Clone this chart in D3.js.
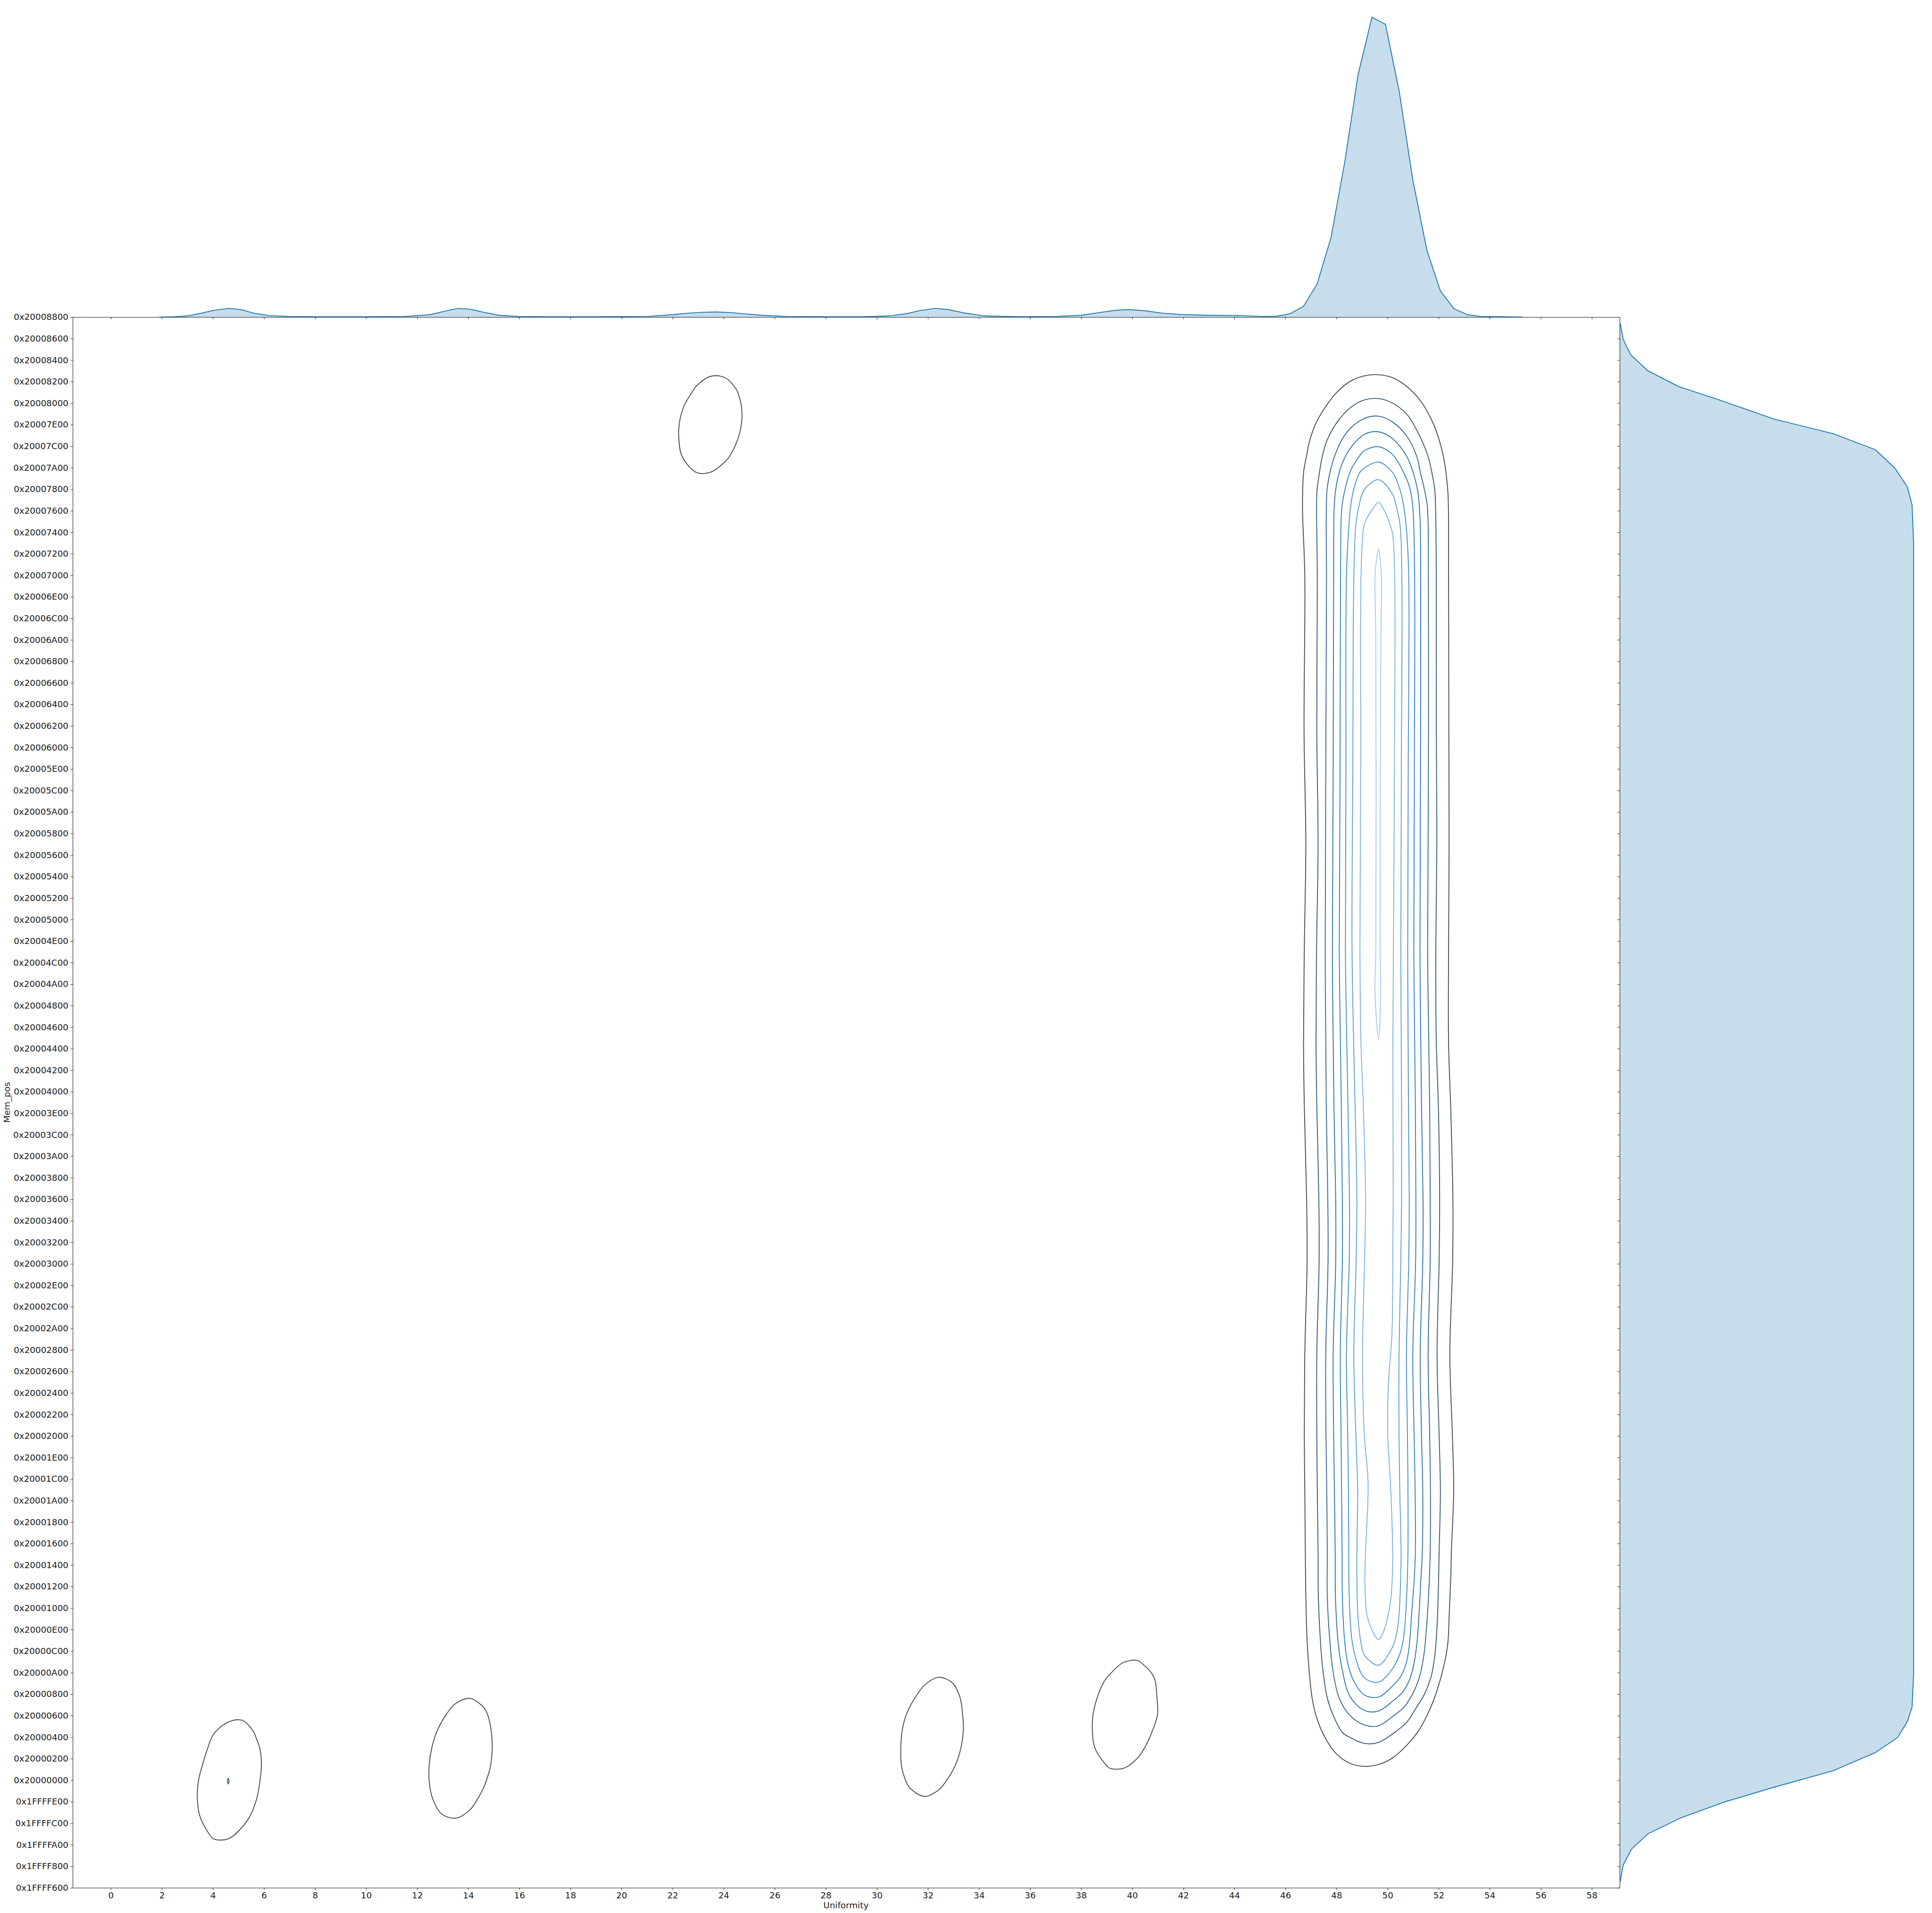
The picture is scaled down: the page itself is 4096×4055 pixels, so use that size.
<!DOCTYPE html>
<html><head><meta charset="utf-8">
<script src="https://cdn.jsdelivr.net/npm/d3@7"></script>
<style>body{margin:0;background:#fff}svg{display:block}</style>
</head><body>
<svg id="chart" width="4096" height="4055"></svg>
<script>
// ---------- data ----------
const BASE = 0x20000000; // y values below are byte offsets from this address
const xTicks = d3.range(0, 59, 2);
const yTicks = d3.range(-2560, 34817, 512);

// top marginal KDE (Uniformity), relative density (peak = 1)
const topU = [1.9,2.5,3.0,3.5,4.0,4.6,5.1,5.6,6.2,7,8,10,11.5,12.5,13.1,13.6,14.1,14.6,15.2,16,17,19,21,22,22.6,23.2,23.7,24.3,24.8,25.5,26.5,28,29.5,30.5,31.2,31.7,32.3,32.8,33.4,34.2,35.5,37,38,38.8,39.4,39.9,40.5,41.2,42,43,44.27,45.1,45.65,46.18,46.71,47.24,47.79,48.33,48.85,49.39,49.92,50.46,50.99,51.54,52.07,52.6,53.13,53.66,54.5,55.3];
const topDensity = [0,0.001,0.004,0.012,0.022,0.029,0.025,0.013,0.005,0.002,0.001,0.001,0.002,0.008,0.02,0.029,0.026,0.016,0.006,0.002,0.001,0.001,0.002,0.008,0.013,0.016,0.017,0.015,0.011,0.006,0.002,0.001,0.001,0.004,0.012,0.022,0.029,0.025,0.014,0.004,0.001,0.002,0.006,0.016,0.023,0.025,0.021,0.013,0.008,0.006,0.005,0.002,0.003,0.011,0.036,0.11,0.266,0.52,0.81,1.0,0.976,0.751,0.457,0.223,0.087,0.028,0.008,0.002,0.001,0];

// right marginal KDE (Mem_pos), relative density (plateau = 1)
const rightOff = [-2409,-2022,-1642,-1273,-903,-513,-165,226,658,1017,1397,1745,2500,6000,12000,18000,24000,29455,30341,30774,31217,31660,32040,32388,32864,33159,33539,33919,34288,34668];
const rightDensity = [0.002,0.012,0.04,0.097,0.206,0.359,0.526,0.727,0.87,0.946,0.979,0.995,1.0,1.0,1.0,1.0,1.0,1.0,0.995,0.979,0.937,0.87,0.727,0.526,0.33,0.202,0.096,0.037,0.012,0.002];

// 2D KDE contour rings: [Uniformity, byte offset from 0x20000000]
const mainL1 = [[49.65,33443],[49.10,33419],[48.55,33292],[47.99,33011],[47.58,32687],[47.19,32283],[46.96,31896],[46.82,31491],[46.71,31104],[46.67,30296],[46.76,28643],[46.73,24941],[46.80,22276],[46.74,19758],[46.71,17537],[46.74,16057],[46.83,13836],[46.85,12355],[46.76,10135],[46.74,8210],[46.76,6877],[46.78,5428],[46.80,4373],[46.85,3318],[46.93,2614],[47.04,1981],[47.19,1559],[47.45,1137],[47.97,645],[48.54,399],[49.10,329],[49.65,374],[50.20,532],[50.76,838],[51.21,1172],[51.56,1559],[51.85,1981],[52.07,2403],[52.29,2966],[52.37,3318],[52.42,4021],[52.48,4900],[52.50,5428],[52.59,6877],[52.54,8210],[52.44,10135],[52.55,12355],[52.56,13836],[52.47,16057],[52.39,17537],[52.39,19758],[52.41,22276],[52.40,24941],[52.39,28642],[52.37,30577],[52.29,31104],[52.19,31491],[52.02,31896],[51.79,32283],[51.32,32800],[50.76,33162],[50.20,33373]];
const mainL2 = [[49.65,32877],[49.10,32845],[48.54,32659],[48.00,32293],[47.64,31896],[47.44,31491],[47.33,31104],[47.24,30700],[47.22,30296],[47.25,28643],[47.23,24941],[47.28,22276],[47.22,19758],[47.20,17537],[47.23,16057],[47.31,13836],[47.32,12355],[47.23,10135],[47.23,8210],[47.25,6877],[47.28,5428],[47.29,4373],[47.37,3318],[47.47,2614],[47.63,1981],[47.86,1559],[48.23,1137],[48.54,1014],[49.10,874],[49.65,901],[50.20,1102],[50.76,1384],[51.10,1700],[51.45,2052],[51.71,2474],[51.85,2966],[51.94,3670],[51.99,4549],[52.02,5428],[52.07,6877],[52.02,8210],[51.94,10135],[52.02,12355],[52.04,13836],[51.99,16057],[51.91,17537],[51.89,19758],[51.93,22276],[51.91,24941],[51.91,28642],[51.88,30296],[51.85,30700],[51.74,31104],[51.59,31491],[51.33,31896],[50.99,32293],[50.76,32501],[50.20,32768]];
const mainL3 = [[49.65,32458],[49.10,32406],[48.55,32174],[48.21,31896],[47.92,31491],[47.74,31104],[47.63,30700],[47.60,30049],[47.61,28643],[47.58,24000],[47.56,19758],[47.60,16057],[47.66,13836],[47.67,12355],[47.58,10135],[47.59,8210],[47.62,6877],[47.64,5428],[47.64,4373],[47.74,3318],[47.86,2614],[48.09,1981],[48.50,1559],[49.10,1313],[49.65,1296],[50.20,1517],[50.64,1735],[50.98,2052],[51.24,2439],[51.42,2966],[51.53,3670],[51.62,4549],[51.67,5428],[51.68,6877],[51.65,8210],[51.59,10135],[51.67,12355],[51.67,13836],[51.65,16057],[51.57,19758],[51.60,24000],[51.60,28642],[51.56,30296],[51.45,30700],[51.29,31104],[51.15,31491],[50.76,31977],[50.20,32318]];
const mainL4 = [[49.65,32086],[49.10,32026],[48.55,31702],[48.26,31386],[48.03,30929],[47.92,30401],[47.89,28643],[47.87,24000],[47.84,19758],[47.90,16057],[47.97,13836],[47.97,12355],[47.87,10135],[47.89,8210],[47.92,6877],[47.95,5428],[47.96,4373],[48.06,3318],[48.23,2614],[48.54,1981],[49.10,1658],[49.65,1647],[50.20,1883],[50.58,2087],[50.87,2403],[51.04,2790],[51.16,3318],[51.24,4021],[51.30,4725],[51.36,5428],[51.38,6877],[51.33,8210],[51.28,10135],[51.38,12355],[51.39,13836],[51.33,16057],[51.27,19758],[51.29,24000],[51.30,28643],[51.27,30049],[51.19,30647],[51.01,31104],[50.76,31491],[50.20,31920]];
const mainL5 = [[49.65,31730],[49.10,31643],[48.88,31491],[48.55,31157],[48.35,30753],[48.21,30296],[48.16,28643],[48.14,24000],[48.11,19758],[48.19,16057],[48.23,13836],[48.23,12355],[48.15,10135],[48.18,8210],[48.20,6877],[48.22,5428],[48.23,4373],[48.32,3318],[48.44,2790],[48.67,2368],[49.10,2024],[49.65,1981],[50.20,2245],[50.52,2474],[50.75,2826],[50.87,3318],[50.95,4021],[51.04,4725],[51.09,5428],[51.08,6877],[51.04,8210],[50.99,10135],[51.10,12355],[51.11,13836],[51.09,16057],[51.03,19758],[51.05,24000],[51.06,28643],[50.99,30296],[50.87,30753],[50.64,31104],[50.20,31544]];
const mainL6 = [[49.65,31365],[49.10,31228],[48.90,31104],[48.67,30700],[48.55,30296],[48.47,29698],[48.39,28643],[48.37,24000],[48.35,19758],[48.45,16057],[48.51,13836],[48.50,12355],[48.39,10135],[48.44,8210],[48.47,6877],[48.48,5428],[48.50,4373],[48.61,3318],[48.81,2790],[49.10,2432],[49.65,2333],[50.20,2657],[50.46,2966],[50.61,3318],[50.70,3845],[50.76,4549],[50.80,5428],[50.80,6877],[50.78,8210],[50.74,10135],[50.83,12355],[50.85,13836],[50.82,16057],[50.79,19758],[50.81,24000],[50.83,28643],[50.75,29698],[50.64,30296],[50.49,30700],[50.20,31115]];
const mainL7 = [[49.65,30946],[49.10,30718],[48.87,30296],[48.76,29874],[48.68,28643],[48.64,24000],[48.61,19758],[48.70,16797],[48.80,13836],[48.77,12355],[48.68,10135],[48.76,8210],[48.83,6877],[48.80,5428],[48.81,4373],[48.87,3670],[48.99,3177],[49.10,2966],[49.65,2738],[50.20,3177],[50.38,3564],[50.46,4021],[50.51,4725],[50.53,5428],[50.48,6877],[50.45,8210],[50.45,10135],[50.52,12355],[50.55,13836],[50.55,16057],[50.52,19758],[50.54,24000],[50.56,28643],[50.49,29874],[50.35,30296],[50.20,30594]];
const mainL8 = [[49.65,30412],[49.48,30303],[49.10,29898],[49.02,29522],[48.96,28643],[48.95,24200],[48.92,19758],[48.96,17537],[49.05,16057],[49.14,13836],[49.10,12355],[49.02,10135],[49.09,8210],[49.22,7321],[49.24,6877],[49.14,5428],[49.11,4725],[49.13,4373],[49.19,3951],[49.40,3564],[49.65,3346],[49.86,3564],[50.03,3951],[50.14,4373],[50.19,4900],[50.20,5428],[50.13,6877],[50.01,8210],[50.03,9394],[50.17,10579],[50.20,11615],[50.22,13836],[50.21,17537],[50.23,19758],[50.27,24200],[50.28,28643],[50.20,29645],[50.09,29898],[49.80,30296]];
const mainL9 = [[49.65,29311],[49.58,29100],[49.51,28643],[49.54,27161],[49.54,19758],[49.51,18722],[49.65,17612],[49.73,18722],[49.71,19758],[49.74,27161],[49.76,28642],[49.70,29100]];
const blobA = [[4.60,1383],[5.15,1425],[5.58,1165],[5.72,961],[5.84,750],[5.90,363],[5.84,-24],[5.72,-429],[5.47,-833],[5.15,-1114],[4.60,-1396],[4.03,-1396],[3.79,-1220],[3.48,-833],[3.39,-429],[3.43,-24],[3.59,363],[3.79,750],[4.03,1100]];
const blobAInner = [[4.60,46],[4.63,-22],[4.60,-91],[4.57,-22]];
const blobB = [[14.07,1946],[14.61,1727],[14.76,1559],[14.90,1172],[14.94,767],[14.88,363],[14.81,187],[14.61,-165],[14.38,-429],[14.07,-703],[13.50,-903],[12.95,-798],[12.60,-429],[12.47,-24],[12.47,363],[12.57,767],[12.78,1172],[13.15,1576],[13.50,1822]];
const blobC = [[32.41,2449],[32.96,2315],[33.26,1964],[33.36,1559],[33.39,1207],[33.30,785],[33.08,363],[32.69,-41],[32.40,-242],[31.86,-386],[31.30,-189],[31.14,-24],[30.96,363],[30.94,785],[30.99,1172],[31.16,1570],[31.50,1964],[31.86,2255]];
const blobD = [[39.65,2801],[40.20,2850],[40.43,2755],[40.76,2550],[40.90,2368],[40.97,1964],[40.99,1559],[40.79,1172],[40.50,785],[40.20,521],[39.65,282],[39.10,292],[38.95,381],[38.54,767],[38.44,1172],[38.47,1570],[38.63,1964],[38.92,2368],[39.11,2508]];
const blobE = [[23.51,33408],[24.06,33372],[24.50,33092],[24.62,32898],[24.70,32687],[24.70,32283],[24.54,31885],[24.22,31492],[24.06,31379],[23.51,31130],[22.95,31116],[22.38,31492],[22.25,31885],[22.27,32301],[22.44,32687],[22.83,33092],[22.95,33187]];

const levelColors = ['#424c57','#395a76','#336893','#2d74ad','#2f80c0','#4390cc','#5da0d6','#7ab3df','#a6cdea'];
const contours = [
  {ring: blobA, level: 0}, {ring: blobAInner, level: 1}, {ring: blobB, level: 0},
  {ring: blobC, level: 0}, {ring: blobD, level: 0}, {ring: blobE, level: 0},
  {ring: mainL1, level: 0}, {ring: mainL2, level: 1}, {ring: mainL3, level: 2},
  {ring: mainL4, level: 3}, {ring: mainL5, level: 4}, {ring: mainL6, level: 5},
  {ring: mainL7, level: 6}, {ring: mainL8, level: 7}, {ring: mainL9, level: 8}
];

// ---------- drawing ----------
const S = 0.94;
const svg = d3.select('#chart');
svg.append('rect').attr('width',4096).attr('height',4055).attr('fill','#fff');
const root = svg.append('g').attr('transform', `scale(${S})`);

const x = d3.scaleLinear().domain([-1.49, 59.09]).range([164, 3653]);
const y = d3.scaleLinear().domain([-2560, 34816]).range([4257, 715]);
const yTop = d3.scaleLinear().domain([0, 1.05]).range([715, 5]);
const xRight = d3.scaleLinear().domain([0, 1.05]).range([3653, 4349]);

const C0 = '#1f77b4';
const FONT = 'DejaVu Sans';
const INK = '#1a1a1a';
const FS = 19.5;

// top marginal
const topData = topU.map((u,i)=>[u, topDensity[i]]);
root.append('path').datum(topData)
  .attr('d', d3.area().x(d=>x(d[0])).y0(yTop(0)).y1(d=>yTop(d[1])))
  .attr('fill', C0).attr('fill-opacity', 0.25).attr('stroke','none');
root.append('path').datum(topData)
  .attr('d', d3.line().x(d=>x(d[0])).y(d=>yTop(d[1])))
  .attr('fill','none').attr('stroke', C0).attr('stroke-width', 2);

// right marginal
const rightData = rightOff.map((o,i)=>[o, rightDensity[i]]);
root.append('path').datum(rightData)
  .attr('d', d3.area().y(d=>y(d[0])).x0(xRight(0)).x1(d=>xRight(d[1])))
  .attr('fill', C0).attr('fill-opacity', 0.25).attr('stroke','none');
root.append('path').datum(rightData)
  .attr('d', d3.line().y(d=>y(d[0])).x(d=>xRight(d[1])))
  .attr('fill','none').attr('stroke', C0).attr('stroke-width', 2);

// contours
const ringLine = d3.line().x(d=>x(d[0])).y(d=>y(d[1])).curve(d3.curveCatmullRomClosed.alpha(0.5));
root.append('g').selectAll('path').data(contours).join('path')
  .attr('d', d=>ringLine(d.ring))
  .attr('fill','none')
  .attr('stroke', d=>levelColors[d.level])
  .attr('stroke-width', 2)
  .attr('stroke-linejoin','round');

// axes
const fmtHex = v => '0x' + (BASE + v).toString(16).toUpperCase().padStart(8,'0');
function styleAxis(g){
  g.select('.domain').attr('stroke', INK).attr('stroke-width', 1.1);
  g.selectAll('.tick line').attr('stroke', INK).attr('stroke-width', 1.1);
  g.selectAll('.tick text').attr('fill', INK).attr('font-size', FS).attr('font-family', FONT);
}
root.append('g').attr('transform','translate(164,0)')
  .call(d3.axisLeft(y).tickValues(yTicks).tickFormat(fmtHex).tickSize(4.9).tickPadding(4.9).tickSizeOuter(0))
  .call(styleAxis);
root.append('g').attr('transform','translate(0,4257)')
  .call(d3.axisBottom(x).tickValues(xTicks).tickFormat(d3.format('d')).tickSize(4.9).tickPadding(4.9).tickSizeOuter(0))
  .call(styleAxis);
// marginal spines with ticks
root.append('g').attr('transform','translate(0,715)')
  .call(d3.axisBottom(x).tickValues(xTicks).tickFormat('').tickSize(4.9).tickSizeOuter(0))
  .call(styleAxis);
root.append('g').attr('transform','translate(3653,0)')
  .call(d3.axisLeft(y).tickValues(yTicks).tickFormat('').tickSize(4.9).tickSizeOuter(0))
  .call(styleAxis);

// axis labels
root.append('text').attr('x', 1908).attr('y', 4303).attr('text-anchor','middle')
  .attr('font-family', FONT).attr('font-size', FS).attr('fill', INK).text('Uniformity');
root.append('text').attr('transform','translate(22,2486) rotate(-90)').attr('text-anchor','middle')
  .attr('font-family', FONT).attr('font-size', FS).attr('fill', INK).text('Mem_pos');
</script>
</body></html>
